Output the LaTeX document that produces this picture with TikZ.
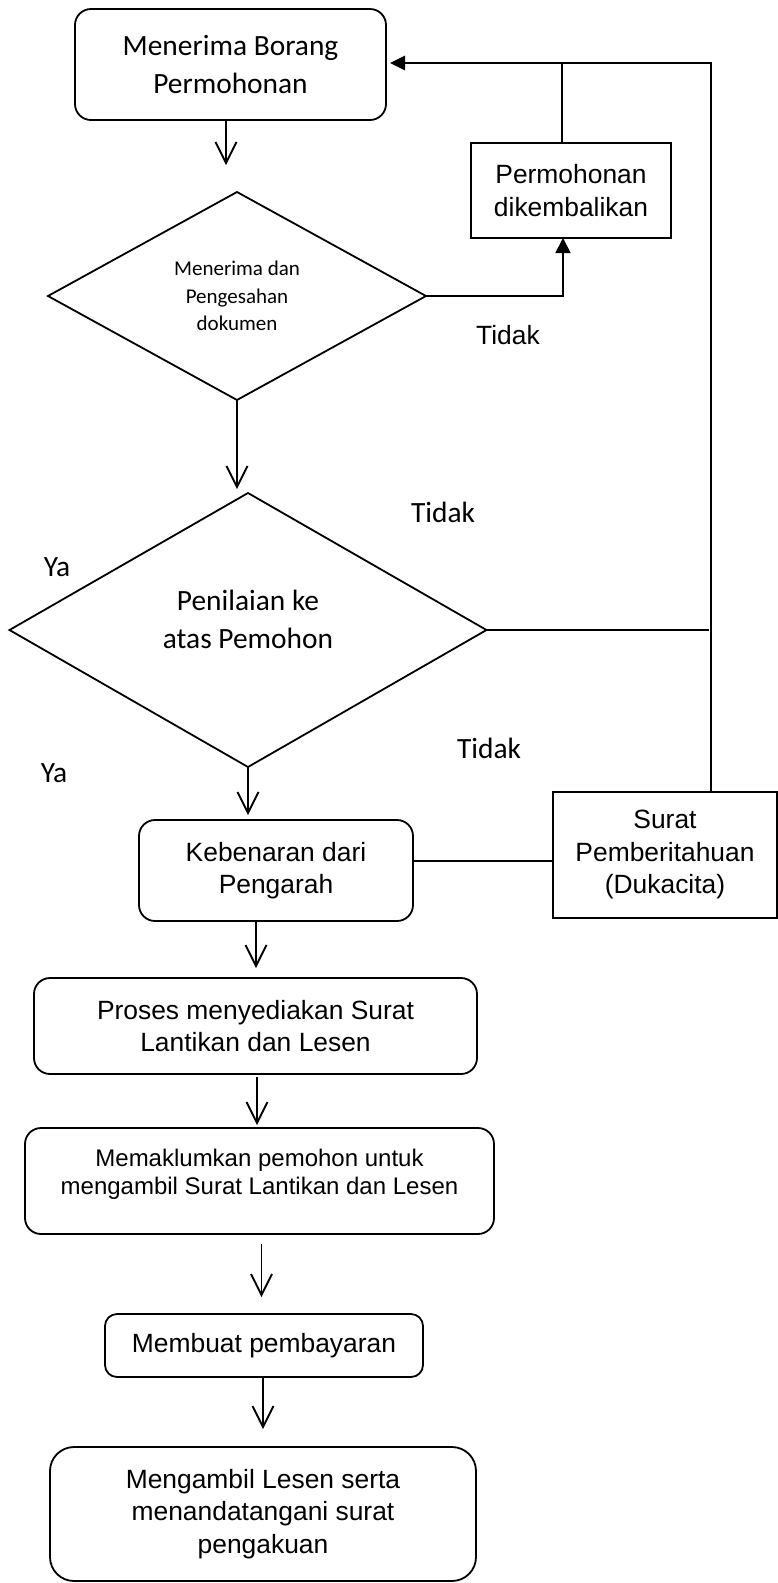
\documentclass[tikz,border=0pt]{standalone}
\usepackage{fontspec}
\setmainfont{Liberation Sans}
\newfontfamily\calibri{Carlito}
\usetikzlibrary{arrows.meta,shapes.geometric,calc}
\newcommand\arialtxt{\fontsize{26.4}{32.5}\selectfont}
\newcommand\arialsm{\fontsize{24}{28}\selectfont}
\newcommand\calibA{\calibri\fontsize{29.4}{38}\selectfont}
\newcommand\calibS{\calibri\fontsize{21}{27.5}\selectfont}
\begin{document}
\begin{tikzpicture}[x=1pt,y=-1pt,
  every node/.style={inner sep=0pt, outer sep=0pt},
  rbox/.style={draw, line width=1.8pt, rounded corners=16pt, align=center, font=\arialtxt},
  sbox/.style={draw, line width=1.8pt, align=center, font=\arialtxt},
  dia/.style={draw, diamond, line width=1.8pt, align=center},
  conn/.style={line width=1.8pt},
  openarr/.style={conn, -{Straight Barb[length=21pt,width=21pt]}},
  fillarr/.style={conn, -{Triangle[length=15pt,width=15pt]}},
  lbl/.style={font=\arialtxt}
]
\useasboundingbox (0,0) rectangle (778,1583);

\node[rbox, minimum width=311pt, minimum height=111pt, font=\calibA] (b1) at (230.5,64.5) {Menerima Borang\\Permohonan};
\node[dia, minimum width=378pt, minimum height=208pt, font=\calibS] (d1) at (237,296) {Menerima dan\\Pengesahan\\dokumen};
\node[sbox, minimum width=200.5pt, minimum height=95pt] (b2) at (571,190.5) {Permohonan\\dikembalikan};
\node[dia, minimum width=477pt, minimum height=274pt] (d2) at (248,630) {};
\node[font=\calibA, align=center] (d2t) at (248,619) {Penilaian ke\\atas Pemohon};
\node[rbox, minimum width=274pt, minimum height=101pt] (keb) at (276,870.5) {Kebenaran dari\\Pengarah};
\node[sbox, minimum width=224pt, minimum height=126pt] (surat) at (665,855) {Surat\\Pemberitahuan\\(Dukacita)};
\node[rbox, minimum width=443pt, minimum height=96pt] (pro) at (255.5,1026) {Proses menyediakan Surat\\Lantikan dan Lesen};
\node[rbox, minimum width=469pt, minimum height=106pt] (mem) at (259.5,1181) {};
\node[font=\arialsm, align=center] (memt) at (259.5,1174) {Memaklumkan pemohon untuk\\mengambil Surat Lantikan dan Lesen};
\node[rbox, rounded corners=12pt, minimum width=318pt, minimum height=63pt] (bay) at (264,1345.5) {Membuat pembayaran};
\node[rbox, rounded corners=24pt, minimum width=426pt, minimum height=134pt] (fin) at (263,1514) {Mengambil Lesen serta\\menandatangani surat\\pengakuan};

% connectors
\coordinate (c1) at (226,165);
\draw[openarr] (b1.south -| c1) -- (c1);
\coordinate (c2) at (237,489);
\draw[openarr] (d1.south) -- (d1.south |- c2);
\coordinate (c3) at (563,296);
\draw[fillarr] (d1.east) -- (c3) -- (c3 |- b2.south);
\coordinate (c4) at (562,64);
\draw[conn] (b2.north -| c4) -- (c4);
\coordinate (c5) at (711,63);
\draw[line width=1.6pt] (surat.north -| c5) -- ($(c5)+(0,-1.4)$);
\draw[conn, -{Triangle[length=15pt,width=14pt]}, line width=2.8pt] (c5) -- ($(b1.east |- c5)+(4,0)$);
\coordinate (c6) at (709,630);
\draw[conn] (d2.east) -- (c6);
\coordinate (c7) at (248,815);
\draw[openarr] (d2.south) -- (c7);
\coordinate (c8) at (413,861);
\draw[conn] (keb.east |- c8) -- (surat.west |- c8);
\coordinate (c9) at (256,968);
\draw[openarr] (keb.south -| c9) -- (c9);
\coordinate (c10) at (257,1125);
\draw[openarr] ($(pro.south -| c10)+(0,3)$) -- (c10);
\coordinate (c11) at (261.5,1297);
\draw[openarr] ($(mem.south -| c11)+(0,10)$) -- (c11);
\coordinate (c12) at (263,1429);
\draw[openarr] (bay.south -| c12) -- (c12);

% labels
\node[lbl] (t1) at (508,335) {Tidak};
\node[font=\calibA] (t2) at (443,512) {Tidak};
\node[font=\calibA] (t3) at (489,748) {Tidak};
\node[font=\calibA] (y1) at (57,567) {Ya};
\node[font=\calibA] (y2) at (54,773) {Ya};
\end{tikzpicture}
\end{document}
